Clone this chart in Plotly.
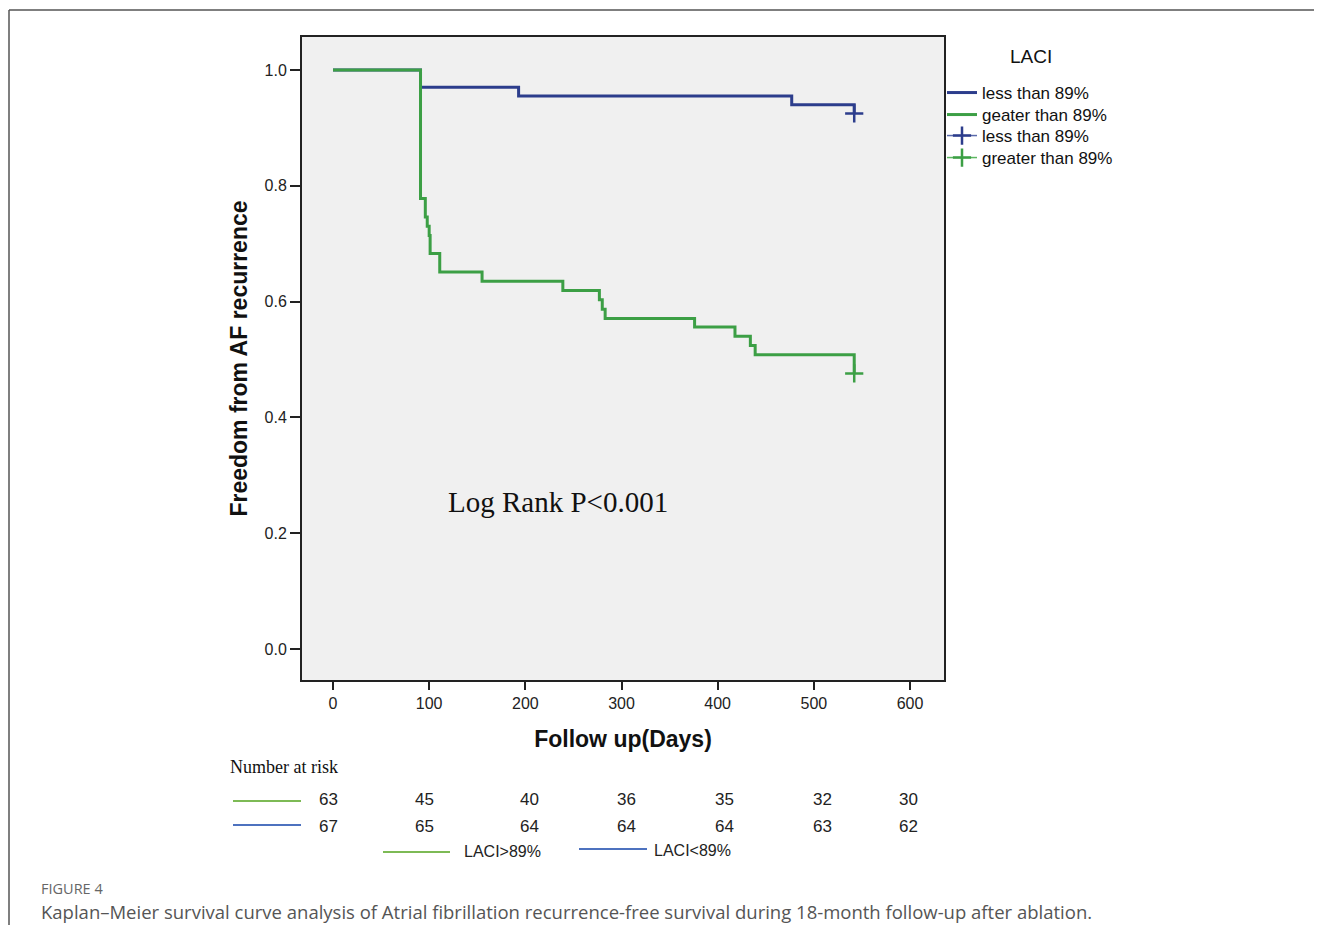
import plotly.graph_objects as go

# page body has an 8px margin; figure is sized so the page fits 1322x935
OFF = 8
W, H = 1306, 917


def px(x):
    return (x - OFF) / W


def py(y):
    return 1 - (y - OFF) / H


# ---------------- data ----------------
# Kaplan-Meier step curves (days, survival)
green_t = [0, 91, 96, 98, 100, 101, 111, 155, 239, 277, 280, 283, 376, 418, 434, 439, 542]
green_s = [1.0, 0.778, 0.746, 0.730, 0.714, 0.683, 0.651, 0.635, 0.619, 0.603, 0.587,
           0.571, 0.556, 0.540, 0.524, 0.508, 0.476]
blue_t = [0, 91, 193, 477, 542]
blue_s = [1.0, 0.970, 0.955, 0.940, 0.925]

# censored observations
green_cens_t = [542]
green_cens_s = [0.476]
blue_cens_t = [542]
blue_cens_s = [0.925]

# number at risk table
risk_days = [0, 100, 200, 300, 400, 500, 600]
green_risk = [63, 45, 40, 36, 35, 32, 30]
blue_risk = [67, 65, 64, 64, 64, 63, 62]

x_ticks = [0, 100, 200, 300, 400, 500, 600]
y_ticks = [0.0, 0.2, 0.4, 0.6, 0.8, 1.0]

legend_names = ["less than 89%", "geater than 89%", "less than 89%", "greater than 89%"]

# ---------------- styles ----------------
GREEN = "#3c9f45"
BLUE = "#2c3d8c"
GREEN_T = "#7dba55"
BLUE_T = "#4d72bf"
SANS = "Liberation Sans, Arial, sans-serif"
SERIF = "Liberation Serif, Times New Roman, serif"

fig = go.Figure()
fig.add_trace(go.Scatter(x=blue_t, y=blue_s, mode="lines", name=legend_names[0],
                         legend="legend",
                         line=dict(shape="hv", color=BLUE, width=3)))
fig.add_trace(go.Scatter(x=green_t, y=green_s, mode="lines", name=legend_names[1],
                         legend="legend2",
                         line=dict(shape="hv", color=GREEN, width=3)))
fig.add_trace(go.Scatter(x=blue_cens_t, y=blue_cens_s, mode="lines+markers", name=legend_names[2],
                         legend="legend3",
                         line=dict(color="#5a6aaa", width=1.5),
                         marker=dict(symbol="cross-thin", size=13,
                                     line=dict(width=2.5, color=BLUE))))
fig.add_trace(go.Scatter(x=green_cens_t, y=green_cens_s, mode="lines+markers", name=legend_names[3],
                         legend="legend4",
                         line=dict(color="#5cb660", width=1.5),
                         marker=dict(symbol="cross-thin", size=13,
                                     line=dict(width=2.5, color=GREEN))))

x0_px, x1_px = 302, 944
y0_px, y1_px = 37, 680
# data->pixel: day 0 at 333, 600 at 910 ; 1.0 at 70, 0.0 at 649
xs = (910 - 333) / 600.0
ys = (649 - 70) / 1.0
xr = [(x0_px - 333) / xs, (x1_px - 333) / xs]
yr = [(649 - y1_px) / ys, (649 - y0_px) / ys]


def leg(ytop):
    return dict(x=px(942), y=py(ytop), xanchor="left", yanchor="top",
                font=dict(family=SANS, size=17, color="#111"),
                bgcolor="rgba(0,0,0,0)", borderwidth=0, itemwidth=30)


fig.update_layout(
    width=W, height=H, autosize=False,
    margin=dict(l=0, r=0, t=0, b=0),
    paper_bgcolor="white",
    plot_bgcolor="#f0f0f0",
    font=dict(family=SANS, color="#111"),
    showlegend=True,
    legend=leg(75), legend2=leg(97), legend3=leg(118), legend4=leg(140),
    xaxis=dict(domain=[px(x0_px), px(x1_px)], range=xr, tickvals=x_ticks,
               ticktext=[str(v) for v in x_ticks],
               showgrid=False, zeroline=False, showline=True, mirror=True,
               linecolor="#222", linewidth=2, ticks="outside", ticklen=8,
               tickwidth=2, tickcolor="#222",
               tickfont=dict(family=SANS, size=16, color="#222"),
               title=dict(text="<b>Follow up(Days)</b>", standoff=20,
                          font=dict(family=SANS, size=23, color="#111")),
               automargin=False),
    yaxis=dict(domain=[py(y1_px), py(y0_px)], range=yr, tickvals=y_ticks,
               ticktext=["%.1f" % v for v in y_ticks],
               showgrid=False, zeroline=False, showline=True, mirror=True,
               linecolor="#222", linewidth=2, ticks="outside", ticklen=10,
               tickwidth=2, tickcolor="#222",
               tickfont=dict(family=SANS, size=16, color="#222"),
               title=dict(text="<b>Freedom from AF recurrence</b>", standoff=10,
                          font=dict(family=SANS, size=23, color="#111")),
               automargin=False),
)

ann = []
ann.append(dict(text="LACI", x=px(1031), y=py(57), xref="paper", yref="paper",
                showarrow=False, font=dict(family=SANS, size=19, color="#111"),
                xanchor="center", yanchor="middle"))
ann.append(dict(text="Log Rank P&lt;0.001", x=px(558), y=py(502), xref="paper", yref="paper",
                showarrow=False, font=dict(family=SERIF, size=29, color="#111"),
                xanchor="center", yanchor="middle"))
ann.append(dict(text="Number at risk", x=px(228), y=py(767), xref="paper", yref="paper",
                showarrow=False, font=dict(family=SERIF, size=18, color="#111"),
                xanchor="left", yanchor="middle"))

col_px = [328, 424, 529, 626, 724, 822, 909]
for d, cx, g, b in zip(risk_days, col_px, green_risk, blue_risk):
    ann.append(dict(text=str(g), x=px(cx), y=py(799), xref="paper", yref="paper",
                    showarrow=False, font=dict(family=SANS, size=17, color="#222"),
                    xanchor="center", yanchor="middle"))
    ann.append(dict(text=str(b), x=px(cx), y=py(826), xref="paper", yref="paper",
                    showarrow=False, font=dict(family=SANS, size=17, color="#222"),
                    xanchor="center", yanchor="middle"))

ann.append(dict(text="LACI&gt;89%", x=px(462), y=py(851), xref="paper", yref="paper",
                showarrow=False, font=dict(family=SANS, size=16, color="#222"),
                xanchor="left", yanchor="middle"))
ann.append(dict(text="LACI&lt;89%", x=px(652), y=py(850), xref="paper", yref="paper",
                showarrow=False, font=dict(family=SANS, size=16, color="#222"),
                xanchor="left", yanchor="middle"))

ann.append(dict(text="FIGURE 4", x=px(39), y=py(888), xref="paper", yref="paper",
                showarrow=False, font=dict(family="Open Sans, sans-serif", size=14.5, color="#666"),
                xanchor="left", yanchor="middle"))
ann.append(dict(text="Kaplan\u2013Meier survival curve analysis of Atrial fibrillation recurrence-free "
                     "survival during 18-month follow-up after ablation.",
                x=px(39), y=py(911), xref="paper", yref="paper",
                showarrow=False, font=dict(family="Open Sans, sans-serif", size=18.5, color="#555"),
                xanchor="left", yanchor="middle"))
fig.update_layout(annotations=ann)

shapes = []
# risk table line keys
shapes.append(dict(type="line", xref="paper", yref="paper", x0=px(233), x1=px(301),
                   y0=py(801), y1=py(801), line=dict(color=GREEN_T, width=2)))
shapes.append(dict(type="line", xref="paper", yref="paper", x0=px(233), x1=px(301),
                   y0=py(825), y1=py(825), line=dict(color=BLUE_T, width=2)))
shapes.append(dict(type="line", xref="paper", yref="paper", x0=px(383), x1=px(450),
                   y0=py(852), y1=py(852), line=dict(color=GREEN_T, width=2)))
shapes.append(dict(type="line", xref="paper", yref="paper", x0=px(579), x1=px(647),
                   y0=py(849), y1=py(849), line=dict(color=BLUE_T, width=2)))
# figure frame (top and left)
shapes.append(dict(type="line", xref="paper", yref="paper", x0=px(9), x1=1,
                   y0=py(10), y1=py(10), line=dict(color="#555", width=1.5)))
shapes.append(dict(type="line", xref="paper", yref="paper", x0=px(9), x1=px(9),
                   y0=py(10), y1=0, line=dict(color="#555", width=1.5)))
fig.update_layout(shapes=shapes)

fig.write_html("out.html")
